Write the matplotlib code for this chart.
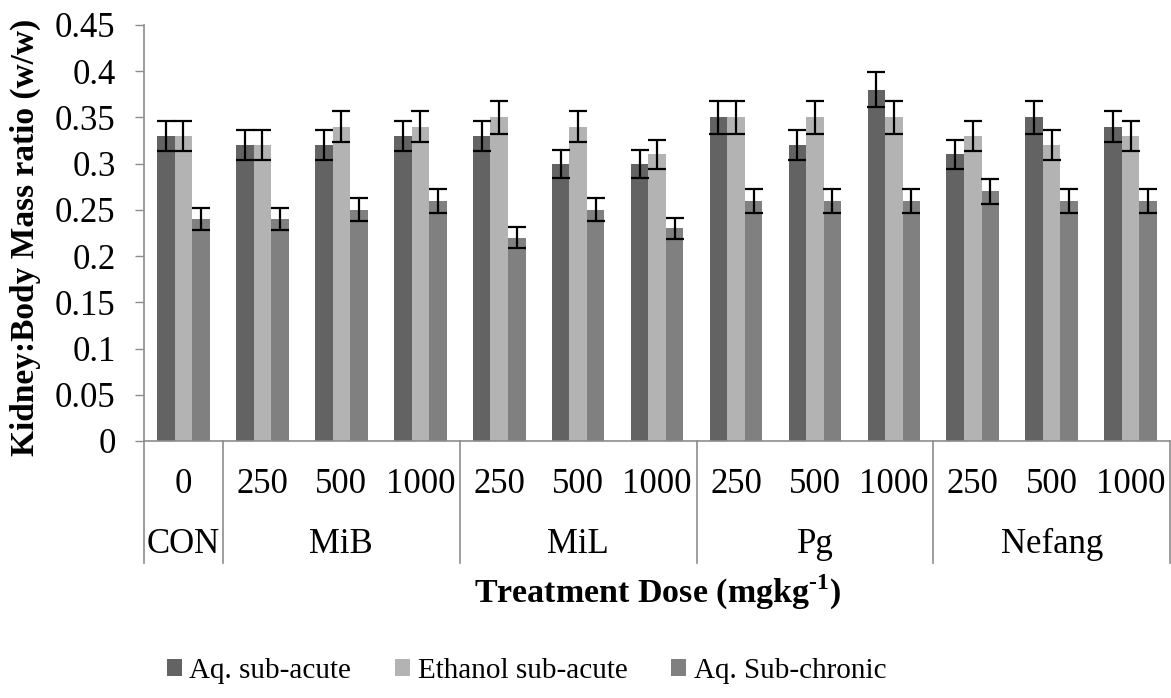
import numpy as np
import matplotlib
matplotlib.use("Agg")
import matplotlib.pyplot as plt
from matplotlib.patches import Patch
from matplotlib.lines import Line2D
import matplotlib.transforms as mtransforms

plt.rcParams["font.family"] = ["Liberation Serif", "DejaVu Serif"]
plt.rcParams["mathtext.fontset"] = "custom"
plt.rcParams["mathtext.rm"] = "Liberation Serif:bold"
plt.rcParams["mathtext.bf"] = "Liberation Serif:bold"

# ---- data ----
doses = ["0", "250", "500", "1000", "250", "500", "1000",
         "250", "500", "1000", "250", "500", "1000"]
groups = ["CON", "MiB", "MiL", "Pg", "Nefang"]
group_sizes = [1, 3, 3, 3, 3]

aq_subacute = [0.33, 0.32, 0.32, 0.33, 0.33, 0.30, 0.30, 0.35, 0.32, 0.38, 0.31, 0.35, 0.34]
eth_subacute = [0.33, 0.32, 0.34, 0.34, 0.35, 0.34, 0.31, 0.35, 0.35, 0.35, 0.33, 0.32, 0.33]
aq_subchronic = [0.24, 0.24, 0.25, 0.26, 0.22, 0.25, 0.23, 0.26, 0.26, 0.26, 0.27, 0.26, 0.26]

aq_subacute_err = [0.0165, 0.016, 0.016, 0.0165, 0.0165, 0.015, 0.015, 0.0175, 0.016, 0.019, 0.0155, 0.0175, 0.017]
eth_subacute_err = [0.0165, 0.016, 0.017, 0.017, 0.0175, 0.017, 0.0155, 0.0175, 0.0175, 0.0175, 0.0165, 0.016, 0.0165]
aq_subchronic_err = [0.012, 0.012, 0.0125, 0.013, 0.011, 0.0125, 0.0115, 0.013, 0.013, 0.013, 0.0135, 0.013, 0.013]

series = ["Aq. sub-acute", "Ethanol sub-acute", "Aq. Sub-chronic"]
colors = ["#636363", "#b3b3b3", "#808080"]

yticks = [0, 0.05, 0.1, 0.15, 0.2, 0.25, 0.3, 0.35, 0.4, 0.45]
ytick_labels = ["0", "0.05", "0.1", "0.15", "0.2", "0.25", "0.3", "0.35", "0.4", "0.45"]

# ---- figure ----
fig = plt.figure(figsize=(11.71, 6.98), dpi=100)
ax = fig.add_axes([0.123, 0.3682, 0.8762, 0.596])

axis_grey = "#8c8c8c"
fs = 25
x = np.arange(len(doses))
w = 1 / 4.5
vals = [aq_subacute, eth_subacute, aq_subchronic]
errs = [aq_subacute_err, eth_subacute_err, aq_subchronic_err]
for i in range(3):
    ax.bar(x + (i - 1) * w, vals[i], w, color=colors[i], label=series[i], zorder=2)
    ax.errorbar(x + (i - 1) * w, vals[i], yerr=errs[i], fmt="none", ecolor="black",
                elinewidth=1.6, capsize=6.5, capthick=1.6, zorder=3)

ax.set_xlim(-0.5, len(doses) - 0.5)
ax.set_ylim(0, 0.45)
ax.set_yticks(yticks)
ax.set_yticklabels(ytick_labels, fontsize=fs)
ax.tick_params(axis="y", direction="out", length=6.5, width=1, color=axis_grey, pad=14)
ax.set_xticks([])

for s in ["top", "right"]:
    ax.spines[s].set_visible(False)
for s in ["left", "bottom"]:
    ax.spines[s].set_color(axis_grey)
    ax.spines[s].set_linewidth(1.2)

# two-level category axis
trans = mtransforms.blended_transform_factory(ax.transData, ax.transAxes)
ax_h_px = 0.596 * 698
dose_y = -(493 - 441) / ax_h_px
group_y = -(553 - 441) / ax_h_px
sep_bottom = -(563 - 441) / ax_h_px

for xi, d in zip(x, doses):
    ax.text(xi, dose_y, d, transform=trans, ha="center", va="baseline", fontsize=fs)

edges = np.concatenate([[0], np.cumsum(group_sizes)]) - 0.5
for g, lo, hi in zip(groups, edges[:-1], edges[1:]):
    ax.text((lo + hi) / 2, group_y, g, transform=trans, ha="center", va="baseline", fontsize=fs)
for e in edges:
    ax.add_line(Line2D([e, e], [0, sep_bottom], transform=trans, color=axis_grey,
                       lw=1.2, clip_on=False))

fig.text(658 / 1171, 1 - 592 / 698, r"Treatment Dose (mgkg$^{\text{-}1}$)",
         ha="center", va="center", fontsize=24.5, fontweight="bold")
fig.text(25 / 1171, 1 - 237 / 698, "Kidney:Body Mass ratio (w/w)", rotation=90,
         ha="center", va="center", fontsize=24, fontweight="bold")

handles = [Patch(facecolor=c, label=s) for c, s in zip(colors, series)]
fig.legend(handles=handles, loc="center left", bbox_to_anchor=(167 / 1171, 1 - 671 / 698),
           ncol=3, frameon=False, fontsize=21, handlelength=0.5, handleheight=0.5,
           handletextpad=0.27, columnspacing=1.5, borderaxespad=0, borderpad=0)

fig.savefig("out.png", dpi=100)
